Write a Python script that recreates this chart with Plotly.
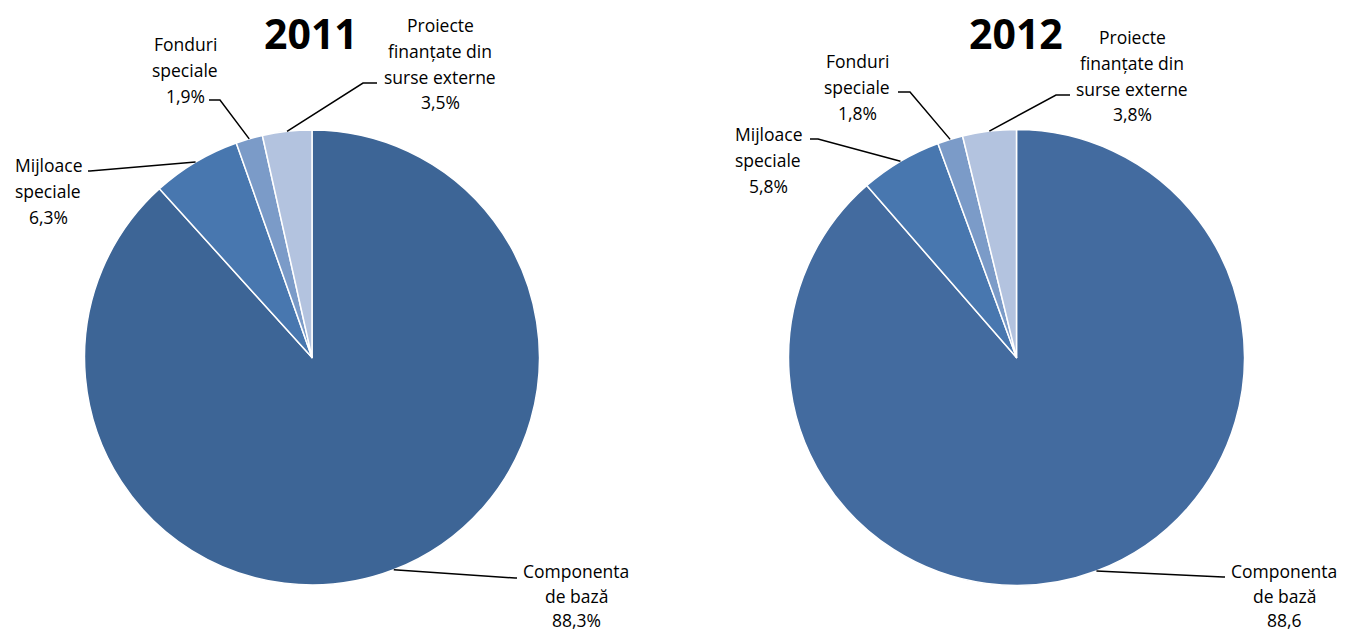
import math
import plotly.graph_objects as go

W, H = 1345, 632

categories = ["Componenta<br>de bază", "Mijloace<br>speciale", "Fonduri<br>speciale",
              "Proiecte<br>finanțate din<br>surse externe"]
values_2011 = [88.3, 6.3, 1.9, 3.5]
values_2012 = [88.6, 5.8, 1.8, 3.8]
value_labels_2011 = ["88,3%", "6,3%", "1,9%", "3,5%"]
value_labels_2012 = ["88,6", "5,8%", "1,8%", "3,8%"]
years = ["2011", "2012"]

colors_2011 = ["#3D6596", "#4877AF", "#7B9BC8", "#B3C3DF"]
colors_2012 = ["#436B9F", "#4877AF", "#7B9BC8", "#B3C3DF"]

# pie geometry in pixels (center x, center y, radius)
pies = [
    dict(cx=312.0, cy=357.5, r=227.5, vals=values_2011, labs=value_labels_2011, cols=colors_2011, title=years[0],
         # (elbow x, elbow y, end x, end y, text center x, text top-line y, line height)
         leaders=[(515, 578, 517, 578, 576, 571, 24.5),
                  (90, 171, 88, 171, 48, 165, 25.8),
                  (220, 100, 209, 100, 185, 44, 25.8),
                  (363, 83, 377, 83, 440, 25, 25.8)]),
    dict(cx=1016.5, cy=357.5, r=228.0, vals=values_2012, labs=value_labels_2012, cols=colors_2012, title=years[1],
         leaders=[(1223, 577, 1225, 577, 1284, 571, 24.5),
                  (818, 139, 810, 139, 768, 134, 25.8),
                  (910, 92, 898, 92, 857, 61, 25.8),
                  (1056, 95, 1070, 95, 1132, 37, 25.8)]),
]

def px(x):
    return x / W

def py(y):
    return 1 - y / H

fig = go.Figure()
shapes = []
annotations = []
FONT = "Open Sans"

for p in pies:
    fig.add_trace(go.Pie(
        values=p["vals"], labels=[c.replace("<br>", " ") for c in categories],
        sort=False, direction="clockwise", rotation=0,
        marker=dict(colors=p["cols"], line=dict(color="white", width=1.5)),
        textinfo="none", hoverinfo="label+percent",
        domain=dict(x=[px(p["cx"] - p["r"]), px(p["cx"] + p["r"])],
                    y=[py(p["cy"] + p["r"]), py(p["cy"] - p["r"])]),
        showlegend=False,
    ))
    total = sum(p["vals"])
    cum = 0.0
    for i, v in enumerate(p["vals"]):
        mid = (cum + v / 2) / total * 2 * math.pi
        cum += v
        sx = p["cx"] + p["r"] * math.sin(mid)
        sy = p["cy"] - p["r"] * math.cos(mid)
        ex, ey, fx, fy, tx, ty, lh = p["leaders"][i]
        shapes.append(dict(type="path", xref="paper", yref="paper",
                           path=f"M {px(sx)},{py(sy)} L {px(ex)},{py(ey)} L {px(fx)},{py(fy)}",
                           line=dict(color="black", width=1.5)))
        lines = categories[i].split("<br>") + [p["labs"][i]]
        for k, t in enumerate(lines):
            annotations.append(dict(xref="paper", yref="paper", x=px(tx), y=py(ty + k * lh),
                                    text=t, showarrow=False, xanchor="center", yanchor="middle",
                                    font=dict(family=FONT, size=17.5, color="black")))
    annotations.append(dict(xref="paper", yref="paper", x=px(p["cx"] - 1), y=py(33),
                            text=f"<b>{p['title']}</b>", showarrow=False,
                            xanchor="center", yanchor="middle",
                            font=dict(family=FONT, size=41, color="black")))

fig.update_layout(width=W, height=H, margin=dict(l=0, r=0, t=0, b=0),
                  paper_bgcolor="white", plot_bgcolor="white",
                  shapes=shapes, annotations=annotations)
fig.write_html("out.html", config={"displayModeBar": False},
               post_script="document.body.style.margin='0';document.body.style.padding='0';")
